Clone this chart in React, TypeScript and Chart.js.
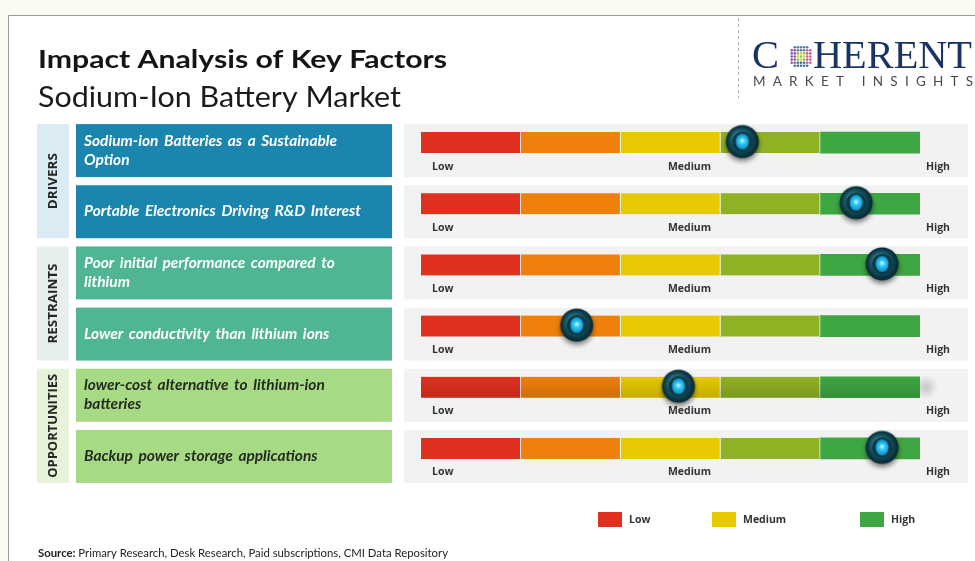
import React, { useEffect, useRef } from 'react';
import { Chart, registerables } from 'chart.js';

Chart.register(...registerables);

// ---------- data ----------
const TITLE = 'Impact Analysis of Key Factors';
const SUBTITLE = 'Sodium-Ion Battery Market';
const SOURCE_LABEL = 'Source:';
const SOURCE_TEXT = ' Primary Research, Desk Research, Paid subscriptions, CMI Data Repository';
const LOGO_TOP = ['C', 'HERENT'];
const LOGO_BOTTOM = 'MARKET INSIGHTS';

const factors = [
  'Sodium-ion Batteries as a Sustainable Option',
  'Portable Electronics Driving R&D Interest',
  'Poor initial performance compared to lithium',
  'Lower conductivity than lithium ions',
  'lower-cost alternative to lithium-ion batteries',
  'Backup power storage applications',
];
const factorLines = [
  ['Sodium-ion Batteries as a Sustainable', 'Option'],
  ['Portable Electronics Driving R&D Interest'],
  ['Poor initial performance compared to', 'lithium'],
  ['Lower conductivity than lithium ions'],
  ['lower-cost alternative to lithium-ion', 'batteries'],
  ['Backup power storage applications'],
];
const factorGroup = [0, 0, 1, 1, 2, 2];
const groupNames = ['DRIVERS', 'RESTRAINTS', 'OPPORTUNITIES'];
const groupBoxColors = ['#1b86ad', '#4fb594', '#a7da84'];
const groupTextColors = ['#ffffff', '#ffffff', '#262b20'];
const groupTagColors = ['#daebf4', '#e6efec', '#e6f2da'];

const impactScores = [3.22, 4.36, 4.62, 1.56, 2.58, 4.62];

const segmentNames = ['Low', 'Low-Medium', 'Medium', 'Medium-High', 'High'];
const segmentWidths = [1, 1, 1, 1, 1];
const segmentColors = ['#e0301e', '#ee800b', '#e6c900', '#8fb124', '#3ea643'];

const scaleTickLabels = ['Low', 'Medium', 'High'];
const legendLabels = ['Low', 'Medium', 'High'];
const legendColors = ['#e0301e', '#e6c900', '#3ea643'];

// ---------- helpers ----------
function drawFitted(ctx: CanvasRenderingContext2D, text: string, x: number, y: number, width: number, font: string, color: string) {
  ctx.save();
  ctx.font = font;
  ctx.fillStyle = color;
  ctx.textAlign = 'left';
  ctx.textBaseline = 'alphabetic';
  const w = ctx.measureText(text).width;
  ctx.translate(x, y);
  ctx.scale(width / w, 1);
  ctx.fillText(text, 0, 0);
  ctx.restore();
}

function makeMarker(): HTMLCanvasElement {
  const c = document.createElement('canvas');
  c.width = 46;
  c.height = 46;
  const g = c.getContext('2d') as CanvasRenderingContext2D;
  const cx = 23, cy = 22;
  g.save();
  g.shadowColor = 'rgba(0,0,0,0.5)';
  g.shadowBlur = 5;
  g.shadowOffsetY = 3;
  g.beginPath();
  g.arc(cx, cy, 16.5, 0, Math.PI * 2);
  const rg = g.createRadialGradient(cx - 4, cy - 5, 2, cx, cy, 16.5);
  rg.addColorStop(0, '#3a8ea0');
  rg.addColorStop(0.55, '#165464');
  rg.addColorStop(1, '#062630');
  g.fillStyle = rg;
  g.fill();
  g.restore();
  g.beginPath();
  g.arc(cx, cy, 10, 0, Math.PI * 2);
  g.fillStyle = '#0b3744';
  g.fill();
  const bg = g.createRadialGradient(cx, cy - 1, 0.5, cx, cy, 8);
  bg.addColorStop(0, '#b4f6ff');
  bg.addColorStop(0.35, '#2fcaf6');
  bg.addColorStop(1, '#0a86c0');
  g.beginPath();
  g.ellipse(cx, cy, 6.5, 8, 0, 0, Math.PI * 2);
  g.fillStyle = bg;
  g.fill();
  return c;
}

function drawLogoDots(ctx: CanvasRenderingContext2D, cx: number, cy: number, r: number) {
  const step = 3.1;
  for (let i = -4; i <= 4; i++) {
    for (let j = -4; j <= 4; j++) {
      const dx = i * step, dy = j * step;
      const d = Math.sqrt(dx * dx + dy * dy);
      if (d > r) continue;
      let col = '#5b7aa6';
      if (d < 5) col = (i + j) % 2 === 0 ? '#8cc63f' : '#d9d23a';
      else if (dx < -4 && Math.abs(dy) < 7) col = '#8a5aa0';
      else if (dx > 4 && Math.abs(dy) < 7) col = '#d0578f';
      else if (dy > 0) col = '#3f6fa8';
      ctx.beginPath();
      ctx.arc(cx + dx, cy + dy, 1.3, 0, Math.PI * 2);
      ctx.fillStyle = col;
      ctx.fill();
    }
  }
}

const decor = {
  id: 'decor',
  beforeDraw(chart: any) {
    const ctx: CanvasRenderingContext2D = chart.ctx;
    const W = chart.width, H = chart.height;
    const y = chart.scales.y;
    const area = chart.chartArea;
    ctx.save();
    // page + card
    ctx.fillStyle = '#fbfbf3';
    ctx.fillRect(0, 0, W, H);
    ctx.fillStyle = '#ffffff';
    ctx.fillRect(8, 15, W - 8, H - 15);
    ctx.strokeStyle = '#9a9a9a';
    ctx.lineWidth = 1;
    ctx.beginPath();
    ctx.moveTo(8.5, H);
    ctx.lineTo(8.5, 15.5);
    ctx.lineTo(W, 15.5);
    ctx.stroke();

    // titles
    drawFitted(ctx, TITLE, 38, 68, 409, 'bold 25px Lato', '#141414');
    drawFitted(ctx, SUBTITLE, 38, 107, 363, '28px Lato', '#1a1a1a');

    // logo
    ctx.save();
    ctx.strokeStyle = '#b5b5b5';
    ctx.setLineDash([3, 3]);
    ctx.beginPath();
    ctx.moveTo(738.5, 18);
    ctx.lineTo(738.5, 98);
    ctx.stroke();
    ctx.restore();
    drawFitted(ctx, LOGO_TOP[0], 752, 68, 27, '39px "Liberation Serif"', '#1b3466');
    drawFitted(ctx, LOGO_TOP[1], 813, 68, 159, '39px "Liberation Serif"', '#1b3466');
    drawLogoDots(ctx, 801, 56.5, 11.5);
    ctx.font = '13.5px Lato';
    ctx.fillStyle = '#4a4a4a';
    ctx.textBaseline = 'alphabetic';
    ctx.textAlign = 'left';
    const chars = LOGO_BOTTOM.split('');
    const cw = chars.map((ch) => ctx.measureText(ch).width);
    const natural = cw.reduce((a, b) => a + b, 0);
    const gap = (220 - natural) / (chars.length - 1);
    let lx = 753;
    chars.forEach((ch, k) => {
      ctx.fillText(ch, lx, 86);
      lx += cw[k] + gap;
    });

    // rows
    const rowTop = (i: number) => y.getPixelForValue(i) - 18.5;
    const rowBot = (i: number) => y.getPixelForValue(i) + 34.5;
    const boxFont = 'italic bold 14.5px Lato';
    ctx.font = boxFont;
    (ctx as any).wordSpacing = '2px';
    const refW = ctx.measureText(factorLines[1][0]).width;
    const sx = 277 / refW;
    factors.forEach((_, i) => {
      const t = rowTop(i), b = rowBot(i);
      // gauge panel
      ctx.fillStyle = '#f2f2f2';
      ctx.fillRect(area.left - 17, t, area.right - area.left + 65, b - t);
      // factor box
      const gi = factorGroup[i];
      ctx.fillStyle = groupBoxColors[gi];
      ctx.fillRect(76, t, 316, b - t);
      ctx.fillStyle = groupTextColors[gi];
      ctx.font = boxFont;
      ctx.textBaseline = 'middle';
      ctx.textAlign = 'left';
      const lines = factorLines[i];
      const mid = (t + b) / 2;
      lines.forEach((ln, k) => {
        const ly = mid + (k - (lines.length - 1) / 2) * 19;
        ctx.save();
        ctx.translate(84, ly);
        ctx.scale(sx, 1);
        ctx.fillText(ln, 0, 0);
        ctx.restore();
      });
    });
    (ctx as any).wordSpacing = '0px';

    // group tags
    groupNames.forEach((name, gi) => {
      const idx = factorGroup.map((g, i) => (g === gi ? i : -1)).filter((v) => v >= 0);
      const t = rowTop(idx[0]);
      const b = rowBot(idx[idx.length - 1]);
      ctx.fillStyle = groupTagColors[gi];
      ctx.fillRect(37, t, 32, b - t);
      ctx.save();
      ctx.translate(53, (t + b) / 2);
      ctx.rotate(-Math.PI / 2);
      ctx.font = 'bold 12.5px "Open Sans"';
      ctx.fillStyle = '#262626';
      ctx.textAlign = 'center';
      ctx.textBaseline = 'middle';
      const w = ctx.measureText(name).width;
      const target = name.length * 8;
      ctx.scale(target / w, 1);
      ctx.fillText(name, 0, 0);
      ctx.restore();
    });
    ctx.restore();
  },
  beforeDatasetDraw(chart: any, args: any) {
    // subtle shading on the 5th gauge (as in the source image), drawn after bars, before markers
    if (args.index !== 0) return;
    const ctx: CanvasRenderingContext2D = chart.ctx;
    const x = chart.scales.x;
    const y = chart.scales.y;
    const c = y.getPixelForValue(4);
    const l = x.getPixelForValue(0), r = x.getPixelForValue(5);
    ctx.save();
    const gr = ctx.createLinearGradient(0, c - 10.5, 0, c + 10.5);
    gr.addColorStop(0, 'rgba(0,0,0,0)');
    gr.addColorStop(1, 'rgba(0,0,0,0.14)');
    ctx.fillStyle = gr;
    ctx.fillRect(l, c - 10.5, r - l, 21);
    const blob = ctx.createRadialGradient(r + 6, c, 1, r + 6, c, 12);
    blob.addColorStop(0, 'rgba(150,150,150,0.45)');
    blob.addColorStop(1, 'rgba(150,150,150,0)');
    ctx.fillStyle = blob;
    ctx.fillRect(r, c - 12, 20, 24);
    ctx.restore();
  },
  afterDatasetsDraw(chart: any) {
    const ctx: CanvasRenderingContext2D = chart.ctx;
    const x = chart.scales.x;
    const y = chart.scales.y;
    ctx.save();
    ctx.font = 'bold 10.5px "Open Sans"';
    ctx.fillStyle = '#333333';
    ctx.textBaseline = 'middle';
    factors.forEach((_, i) => {
      const ly = y.getPixelForValue(i) + 24;
      ctx.textAlign = 'left';
      ctx.fillText(scaleTickLabels[0], x.getPixelForValue(0) + 11, ly);
      ctx.textAlign = 'center';
      ctx.fillText(scaleTickLabels[1], x.getPixelForValue(2.5) + 19, ly);
      ctx.textAlign = 'right';
      ctx.fillText(scaleTickLabels[2], x.getPixelForValue(5) + 30, ly);
    });
    ctx.restore();
  },
  afterDraw(chart: any) {
    const ctx: CanvasRenderingContext2D = chart.ctx;
    ctx.save();
    // legend
    const lxs = [598, 712, 860];
    legendLabels.forEach((lab, k) => {
      ctx.fillStyle = legendColors[k];
      ctx.fillRect(lxs[k], 512, 24, 15);
      ctx.font = 'bold 10.5px "Open Sans"';
      ctx.fillStyle = '#333333';
      ctx.textBaseline = 'middle';
      ctx.textAlign = 'left';
      ctx.fillText(lab, lxs[k] + 31, 520);
    });
    // source
    ctx.font = 'bold 11.5px Lato';
    const w1 = ctx.measureText(SOURCE_LABEL).width;
    ctx.font = '11.5px Lato';
    const w2 = ctx.measureText(SOURCE_TEXT).width;
    const s = 410 / (w1 + w2);
    ctx.translate(38, 557);
    ctx.scale(s, 1);
    ctx.textBaseline = 'alphabetic';
    ctx.textAlign = 'left';
    ctx.fillStyle = '#222222';
    ctx.font = 'bold 11.5px Lato';
    ctx.fillText(SOURCE_LABEL, 0, 0);
    ctx.font = '11.5px Lato';
    ctx.fillText(SOURCE_TEXT, w1, 0);
    ctx.restore();
  },
};

export default function App() {
  const ref = useRef<HTMLCanvasElement | null>(null);
  useEffect(() => {
    if (!ref.current) return;
    const marker = makeMarker();
    const chart = new Chart(ref.current, {
      type: 'bar',
      data: {
        labels: factors,
        datasets: [
          {
            type: 'scatter',
            label: 'Impact',
            data: impactScores.map((v, i) => ({ x: v, y: factors[i] })),
            pointStyle: marker,
            pointRadius: 17,
            order: 0,
            stack: 'marker',
            clip: false,
          } as any,
          ...segmentNames.map((name, k) => ({
            type: 'bar',
            label: name,
            data: factors.map(() => segmentWidths[k]),
            backgroundColor: segmentColors[k],
            borderColor: 'rgba(255,255,255,0.85)',
            borderWidth: k < segmentNames.length - 1 ? { right: 1, left: 0, top: 0, bottom: 0 } : 0,
            borderSkipped: false,
            barThickness: 21,
            order: 1,
          } as any)),
        ],
      },
      options: {
        indexAxis: 'y',
        responsive: false,
        animation: false,
        events: [],
        layout: { padding: { left: 421, right: 55, top: 112, bottom: 82 } },
        scales: {
          x: { type: 'linear', min: 0, max: 5, stacked: true, display: false },
          y: { type: 'category', stacked: true, display: false },
        },
        plugins: {
          legend: { display: false },
          tooltip: { enabled: false },
          title: { display: false },
        },
      } as any,
      plugins: [decor],
    });
    return () => chart.destroy();
  }, []);
  return (
    <div style={{ position: 'absolute', left: 0, top: 0, width: 975, height: 561 }}>
      <canvas ref={ref} width={975} height={561} style={{ width: 975, height: 561, display: 'block' }} />
    </div>
  );
}
